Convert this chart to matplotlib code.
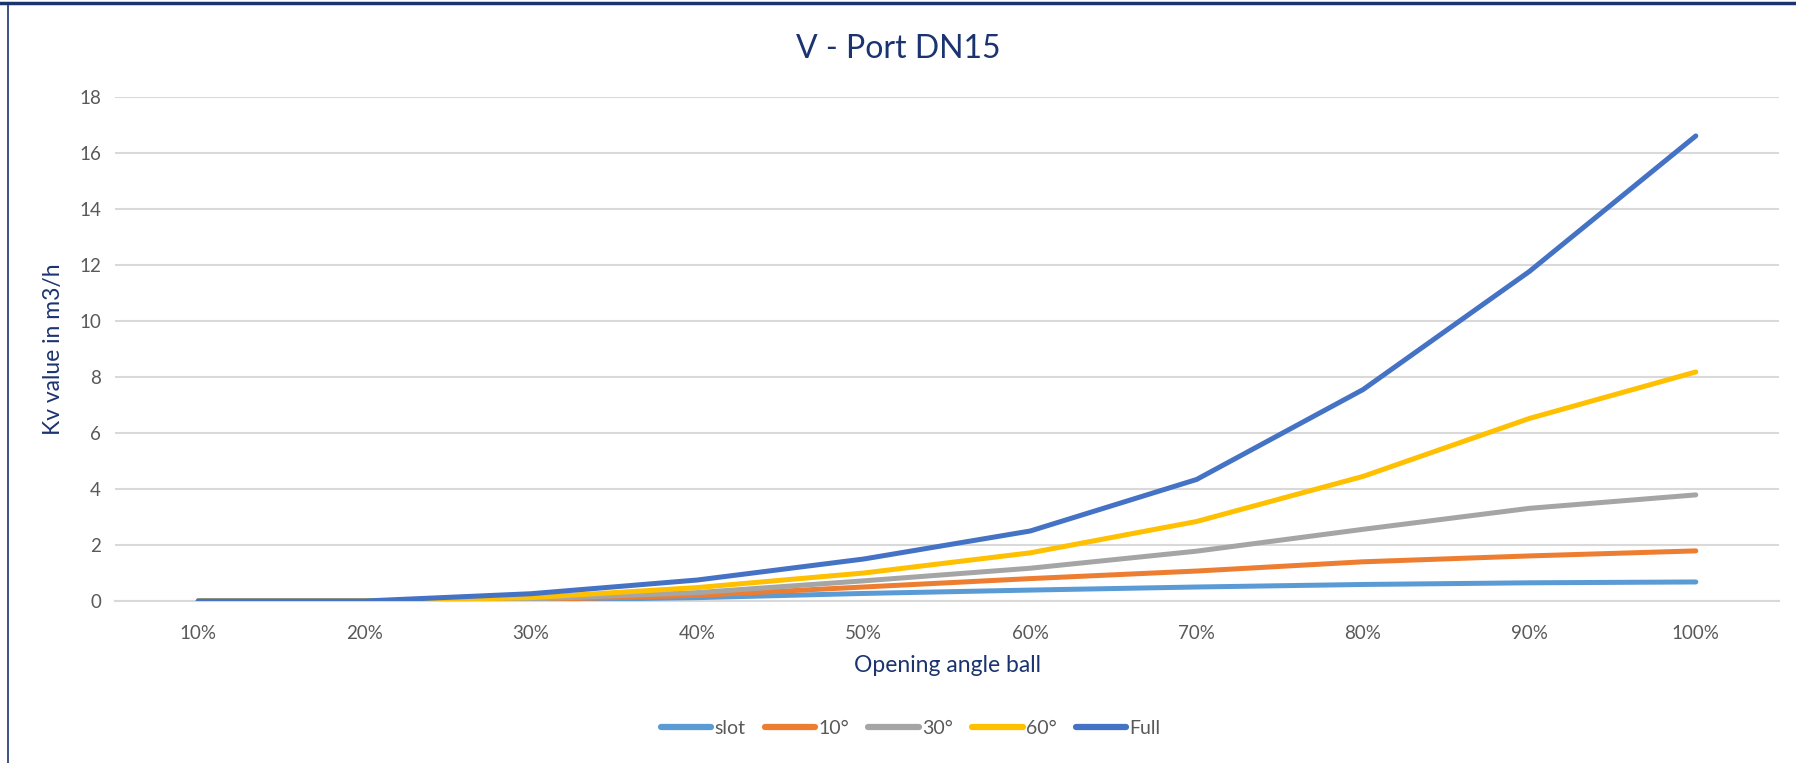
import matplotlib
matplotlib.use("Agg")
import matplotlib.pyplot as plt
from matplotlib.lines import Line2D

# opening angle categories
openings = ['10%', '20%', '30%', '40%', '50%', '60%', '70%', '80%', '90%', '100%']

# Kv values (m3/h)
slot = [0, 0, 0.03, 0.12, 0.27, 0.39, 0.50, 0.59, 0.65, 0.68]
deg10 = [0, 0, 0.05, 0.20, 0.50, 0.80, 1.07, 1.40, 1.61, 1.79]
deg30 = [0, 0, 0.07, 0.30, 0.72, 1.17, 1.78, 2.56, 3.31, 3.79]
deg60 = [0, 0, 0.12, 0.48, 1.00, 1.72, 2.84, 4.45, 6.52, 8.18]
full = [0, 0, 0.26, 0.75, 1.50, 2.50, 4.34, 7.55, 11.77, 16.61]

series_names = ['slot', '10°', '30°', '60°', 'Full']
series_colors = ['#5B9BD5', '#ED7D31', '#A5A5A5', '#FFC000', '#4472C4']

navy = '#1B3470'
tick_col = '#595959'
grid_col = '#D9D9D9'

plt.rcParams['font.family'] = ['Lato', 'DejaVu Sans']

W, H = 1796, 763
fig = plt.figure(figsize=(W / 100, H / 100), dpi=100)

# axes placed from pixel bounds of the reference
left, right, top, bottom = 115, 1779, 97, 601
ax = fig.add_axes([left / W, 1 - bottom / H, (right - left) / W, (bottom - top) / H])

x = list(range(len(openings)))
for vals, name, col in zip([slot, deg10, deg30, deg60, full], series_names, series_colors):
    ax.plot(x, vals, color=col, lw=3.6, solid_capstyle='round', solid_joinstyle='round',
            label=name, zorder=3)

ax.set_xlim(-0.5, len(openings) - 0.5)
ax.set_ylim(0, 18)
ax.set_yticks(range(0, 19, 2))
ax.set_xticks(x)
ax.set_xticklabels(openings)

ax.grid(axis='y', color=grid_col, lw=1.5, zorder=0)
for s in ['top', 'right', 'left']:
    ax.spines[s].set_visible(False)
ax.spines['bottom'].set_color(grid_col)
ax.spines['bottom'].set_linewidth(1.5)
ax.tick_params(axis='both', length=0, labelsize=13.5, labelcolor=tick_col)
ax.tick_params(axis='x', pad=17)
ax.tick_params(axis='y', pad=10)

ax.set_xlabel('Opening angle ball', fontsize=16.5, color=navy)
ax.xaxis.set_label_coords(0.5, -0.127)
ax.xaxis.label.set_va('center')
ax.set_ylabel('Kv value in m3/h', fontsize=16.5, color=navy)
ax.yaxis.set_label_coords(-0.0367, 0.5)
ax.yaxis.label.set_va('center')

fig.text(0.5, 1 - 49 / H, 'V - Port DN15', ha='center', va='center', fontsize=23, color=navy)

handles = [Line2D([], [], color=c, lw=4.5, solid_capstyle='round') for c in series_colors]
fig.legend(handles, series_names, loc='center', bbox_to_anchor=(0.507, 1 - 728 / H), ncol=5,
           frameon=False, fontsize=14, handlelength=2.6, handletextpad=0.15,
           columnspacing=1.0, labelcolor=tick_col)

# chart frame (top and left edges visible in the reference)
fig.add_artist(Line2D([0, 1], [1 - 3 / H, 1 - 3 / H], transform=fig.transFigure, color=navy, lw=2.5))
fig.add_artist(Line2D([8 / W, 8 / W], [0, 1 - 3 / H], transform=fig.transFigure, color=navy, lw=1.2))

fig.savefig('out.png', dpi=100)
